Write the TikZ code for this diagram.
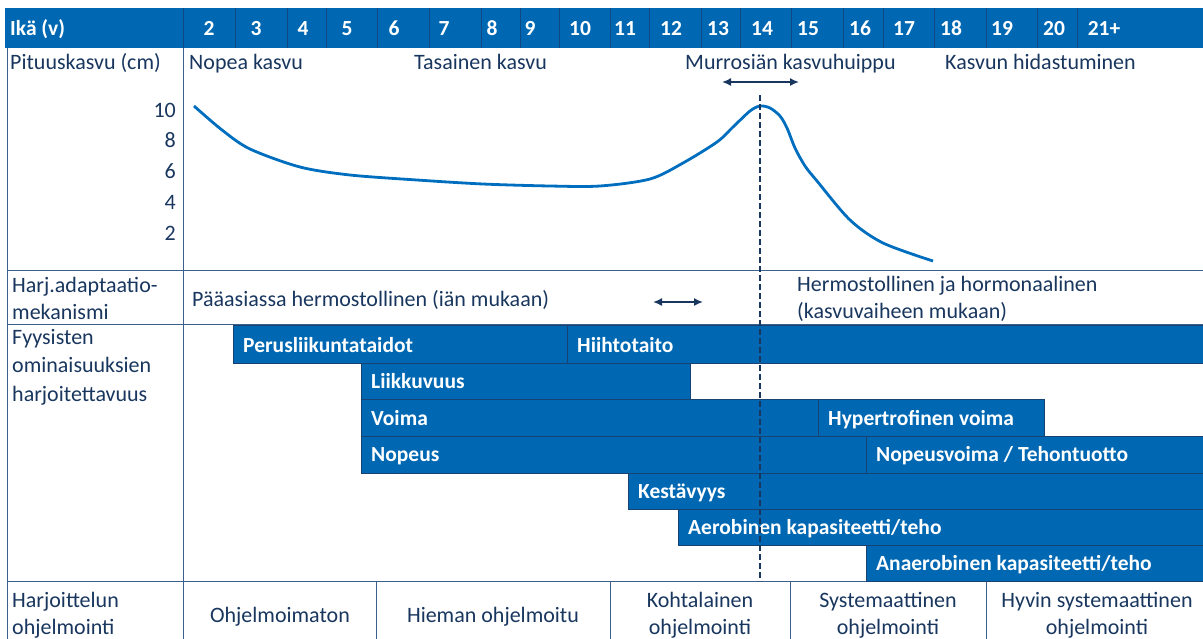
\documentclass[tikz,border=0pt]{standalone}
\usepackage{fontspec}
\setmainfont{Carlito}
\usetikzlibrary{arrows.meta}
\definecolor{agehead}{RGB}{0,104,179}
\definecolor{colsep}{RGB}{16,72,132}
\definecolor{barblue}{RGB}{0,104,179}
\definecolor{barline}{RGB}{24,66,116}
\definecolor{txtnavy}{RGB}{24,54,94}
\definecolor{gridline}{RGB}{60,95,140}
\definecolor{curveblue}{RGB}{0,110,190}

\begin{document}
\begin{tikzpicture}[x=1pt, y=-1pt,
  font=\fontsize{22}{27}\selectfont,
  txt/.style={text=txtnavy, inner sep=0pt},
  one/.style={txt, text height=16pt, text depth=2pt},
  lbl/.style={one, anchor=west},
  multi/.style={txt, anchor=west, align=left},
  age/.style={text=white, inner sep=0pt, text height=16pt, text depth=2pt,
              font=\fontsize{21.5}{27}\selectfont\bfseries},
  bar/.style={fill=barblue, draw=barline, line width=1pt},
  bartxt/.style={age, anchor=west},
  grid/.style={draw=gridline, line width=0.8pt},
  sep/.style={draw=colsep, line width=0.6pt},
  growth/.style={draw=curveblue, line width=2.8pt},
  peak/.style={draw=txtnavy, line width=1.8pt, dash pattern=on 6pt off 3pt},
  arr/.style={{Latex[length=9pt,width=8pt]}-{Latex[length=9pt,width=8pt]}, line width=1.6pt, draw=txtnavy}
]
\useasboundingbox (0,0) rectangle (1203,638);

\fill[agehead] (5,8) rectangle (1206,48);
\draw[sep] (183,8)--(183,48) (235,8)--(235,48) (287,8)--(287,48) (326,8)--(326,48)
  (377,8)--(377,48) (429,8)--(429,48) (481,8)--(481,48) (520,8)--(520,48)
  (559,8)--(559,48) (610,8)--(610,48) (649,8)--(649,48) (701,8)--(701,48)
  (740,8)--(740,48) (791,8)--(791,48) (843,8)--(843,48) (883,8)--(883,48)
  (934,8)--(934,48) (986,8)--(986,48) (1037,8)--(1037,48) (1077,8)--(1077,48);

\node[age, anchor=west] (ika) at (10,28) {Ikä (v)};
\node[age] (a2) at (209,28) {2};    \node[age] (a3) at (256,28) {3};
\node[age] (a4) at (303,28) {4};    \node[age] (a5) at (347,28) {5};
\node[age] (a6) at (394,28) {6};    \node[age] (a7) at (444,28) {7};
\node[age] (a8) at (492,28) {8};    \node[age] (a9) at (530,28) {9};
\node[age] (a10) at (580,28) {10};  \node[age] (a11) at (625,28) {11};
\node[age] (a12) at (671,28) {12};  \node[age] (a13) at (718,28) {13};
\node[age] (a14) at (762,28) {14};  \node[age] (a15) at (808,28) {15};
\node[age] (a16) at (860,28) {16};  \node[age] (a17) at (904,28) {17};
\node[age] (a18) at (951,28) {18};  \node[age] (a19) at (1002,28) {19};
\node[age] (a20) at (1054,28) {20}; \node[age] (a21) at (1104,28) {21+};

\draw[grid] (7,48)--(7,640) (183,48)--(183,640);
\draw[grid] (7,270)--(1206,270) (7,324)--(1206,324) (7,581)--(1206,581);
\draw[grid] (376,581)--(376,640) (610,581)--(610,640) (790,581)--(790,640) (986,581)--(986,640);

\node[lbl] (pituus) at (10,62) {Pituuskasvu (cm)};
\node[lbl] (nopea) at (189,62) {Nopea kasvu};
\node[lbl] (tasainen) at (414,62) {Tasainen kasvu};
\node[lbl] (murros) at (685,62) {Murrosiän kasvuhuippu};
\node[lbl] (hidas) at (945,62) {Kasvun hidastuminen};

\node[one, anchor=east] (y10) at (176,110) {10};
\node[one, anchor=east] (y8) at (176,140) {8};
\node[one, anchor=east] (y6) at (176,171) {6};
\node[one, anchor=east] (y4) at (176,202) {4};
\node[one, anchor=east] (y2) at (176,233) {2};

\draw[growth] plot[smooth, tension=0.5] coordinates {
  (194,106) (222,130) (250,149) (300,167) (350,175) (417,180) (483,184)
  (550,186) (600,186) (650,179) (683,163) (717,142) (733,127) (750,111)
  (760,106) (770,108) (780,116) (787,128) (795,148) (805,166) (817,181)
  (850,220) (883,243) (933,261)};

\node[multi] (harj) at (12,298) {Harj.adaptaatio-\\mekanismi};
\node[lbl] (hermo) at (192,299) {Pääasiassa hermostollinen (iän mukaan)};
\node[multi] (hormo) at (797,299) {Hermostollinen ja hormonaalinen\\(kasvuvaiheen mukaan)};
\node[multi, font=\fontsize{22}{28.5}\selectfont] (fyys) at (12,367) {Fyysisten\\ominaisuuksien\\harjoitettavuus};

\draw[bar] (233,325) rectangle (567,363);
\draw[bar] (567,325) rectangle (1208,363);
\draw[bar] (361,363) rectangle (690,399);
\draw[bar] (361,399) rectangle (818,436);
\draw[bar] (818,399) rectangle (1044,436);
\draw[bar] (361,436) rectangle (866,473);
\draw[bar] (866,436) rectangle (1208,473);
\draw[bar] (628,473) rectangle (1208,509);
\draw[bar] (678,509) rectangle (1208,545);
\draw[bar] (866,545) rectangle (1208,581);

\node[bartxt] (perus) at (243,345) {Perusliikuntataidot};
\node[bartxt] (hiihto) at (577,345) {Hiihtotaito};
\node[bartxt] (liikk) at (371,381) {Liikkuvuus};
\node[bartxt] (voima) at (371,418) {Voima};
\node[bartxt] (hyper) at (828,418) {Hypertrofinen voima};
\node[bartxt] (nopeus) at (371,454) {Nopeus};
\node[bartxt] (teho) at (876,454) {Nopeusvoima / Tehontuotto};
\node[bartxt] (kest) at (638,491) {Kestävyys};
\node[bartxt] (aero) at (688,527) {Aerobinen kapasiteetti/teho};
\node[bartxt] (anaero) at (876,563) {Anaerobinen kapasiteetti/teho};

\coordinate (peaktop) at (760,95);
\coordinate (peakbot) at (760,581);
\draw[peak] (peaktop)--(peakbot);

\coordinate (pk1) at (722,82);  \coordinate (pk2) at (799,82);
\coordinate (hm1) at (653,302); \coordinate (hm2) at (703,302);
\draw[arr] (pk1)--(pk2);
\draw[arr] (hm1)--(hm2);

\node[multi] (ohj) at (12,615) {Harjoittelun\\ohjelmointi};
\node[one] (lvl1) at (280,615) {Ohjelmoimaton};
\node[one] (lvl2) at (493,615) {Hieman ohjelmoitu};
\node[txt, align=center] (lvl3) at (700,615) {Kohtalainen\\ohjelmointi};
\node[txt, align=center] (lvl4) at (888,615) {Systemaattinen\\ohjelmointi};
\node[txt, align=center] (lvl5) at (1097,615) {Hyvin systemaattinen\\ohjelmointi};
\end{tikzpicture}
\end{document}
